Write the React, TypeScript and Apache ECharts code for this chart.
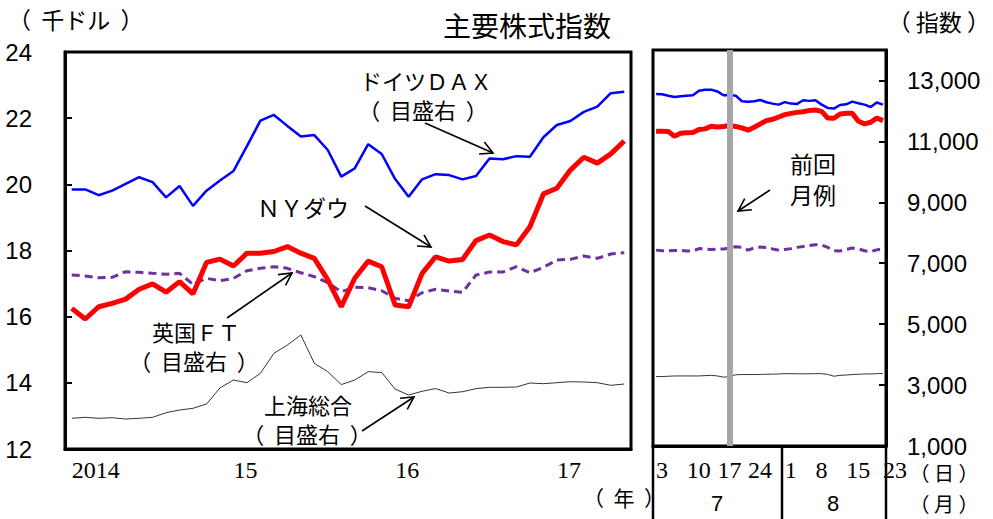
import React, { useEffect, useRef } from "react";
import * as echarts from "echarts";

// ---- monthly data (Jan 2014 - Jun 2017) ----
const months = [
  "2014-01","2014-02","2014-03","2014-04","2014-05","2014-06","2014-07","2014-08","2014-09","2014-10","2014-11","2014-12",
  "2015-01","2015-02","2015-03","2015-04","2015-05","2015-06","2015-07","2015-08","2015-09","2015-10","2015-11","2015-12",
  "2016-01","2016-02","2016-03","2016-04","2016-05","2016-06","2016-07","2016-08","2016-09","2016-10","2016-11","2016-12",
  "2017-01","2017-02","2017-03","2017-04","2017-05","2017-06",
];
const yearTickLabels: Record<string, string> = { "2014-01": "2014", "2015-01": "15", "2016-01": "16", "2017-01": "17" };

// NY Dow (thousand dollars, left axis)
const dowMonthly = [
  16.25, 15.93, 16.30, 16.40, 16.53, 16.83, 16.99, 16.74, 17.06, 16.69, 17.64, 17.74,
  17.53, 17.92, 17.92, 17.97, 18.12, 17.92, 17.76, 17.11, 16.30, 17.16, 17.68, 17.51,
  16.35, 16.30, 17.31, 17.81, 17.68, 17.73, 18.30, 18.47, 18.27, 18.17, 18.72, 19.71,
  19.88, 20.43, 20.82, 20.64, 20.92, 21.31,
];
// German DAX (index, right axis)
const daxMonthly = [
  9500, 9500, 9310, 9460, 9680, 9900, 9740, 9240, 9610, 8960, 9460, 9790,
  10100, 10920, 11750, 11940, 11580, 11230, 11280, 10790, 9920, 10190, 10980, 10660,
  9840, 9260, 9830, 10000, 9970, 9830, 9940, 10510, 10490, 10590, 10570, 11210,
  11610, 11740, 12040, 12210, 12650, 12700,
];
// UK FT (index, right axis)
const ftMonthly = [
  6697, 6664, 6608, 6620, 6805, 6785, 6752, 6720, 6752, 6392, 6588, 6510,
  6588, 6838, 6916, 6969, 6916, 6773, 6642, 6445, 6150, 6294, 6281, 6183,
  5934, 5855, 6117, 6229, 6173, 6130, 6697, 6795, 6795, 6969, 6773, 6948,
  7188, 7210, 7319, 7243, 7384, 7427,
];
// Shanghai Composite (index, right axis)
const shMonthly = [
  2005, 2038, 2005, 2025, 1982, 2005, 2038, 2188, 2277, 2332, 2473, 3000,
  3259, 3171, 3478, 4133, 4405, 4732, 3806, 3532, 3110, 3259, 3532, 3505,
  2960, 2768, 2890, 2980, 2833, 2876, 2975, 3020, 3020, 3030, 3161, 3139,
  3171, 3204, 3193, 3171, 3085, 3128,
];

// ---- daily data (Jul 3 - Aug 23, 2017) ----
const days = [
  "7/3","7/4","7/5","7/6","7/7","7/10","7/11","7/12","7/13","7/14",
  "7/17","7/18","7/19","7/20","7/21","7/24","7/25","7/26","7/27","7/28","7/31",
  "8/1","8/2","8/3","8/4","8/7","8/8","8/9","8/10","8/11",
  "8/14","8/15","8/16","8/17","8/18","8/21","8/22","8/23",
];
const dayTickLabels = ["7/3", "7/10", "7/17", "7/24", "8/1", "8/8", "8/15", "8/23"];
const previousReportDay = "7/19";

const dowDaily = [
  21.54, 21.54, 21.53, 21.39, 21.48, 21.49, 21.50, 21.59, 21.61, 21.69,
  21.67, 21.68, 21.71, 21.68, 21.64, 21.57, 21.66, 21.76, 21.86, 21.90, 21.97,
  22.04, 22.08, 22.11, 22.13, 22.17, 22.18, 22.14, 21.94, 21.93,
  22.06, 22.08, 22.08, 21.84, 21.76, 21.81, 21.94, 21.86,
];
const daxDaily = [
  12557, 12546, 12500, 12460, 12480, 12500, 12514, 12660, 12698, 12698,
  12640, 12514, 12520, 12500, 12318, 12300, 12318, 12360, 12285, 12240, 12207,
  12290, 12240, 12230, 12350, 12330, 12350, 12207, 12099, 12077,
  12196, 12218, 12305, 12250, 12207, 12130, 12275, 12207,
];
const ftDaily = [
  7430, 7410, 7410, 7420, 7420, 7400, 7400, 7480, 7470, 7450,
  7460, 7470, 7500, 7540, 7520, 7430, 7500, 7530, 7520, 7470, 7430,
  7450, 7480, 7520, 7550, 7580, 7610, 7600, 7520, 7410,
  7400, 7450, 7500, 7470, 7410, 7380, 7440, 7460,
];
const shDaily = [
  3280, 3280, 3290, 3300, 3300, 3300, 3300, 3300, 3310, 3320,
  3300, 3260, 3280, 3340, 3345, 3345, 3345, 3350, 3355, 3360, 3365,
  3375, 3375, 3370, 3370, 3370, 3375, 3375, 3350, 3290,
  3320, 3330, 3345, 3355, 3365, 3365, 3375, 3380,
];

const leftTicks = { min: 12, max: 24, interval: 2 };
const rightTicks = { min: 1000, max: 14000, interval: 2000 };

const CJK = "'Noto Sans CJK JP', 'Noto Sans', sans-serif";
const SANS = "'Liberation Sans', Arial, sans-serif";
const SERIF = "'Liberation Serif', 'Times New Roman', serif";
const paren = (s: string, sp = "  ") => `（${sp}${s}${sp}）`;

function arrow(x1: number, y1: number, x2: number, y2: number) {
  const a = Math.atan2(y2 - y1, x2 - x1);
  const L = 14;
  const t = (28 * Math.PI) / 180;
  const p1 = [x2 - L * Math.cos(a - t), y2 - L * Math.sin(a - t)];
  const p2 = [x2 - L * Math.cos(a + t), y2 - L * Math.sin(a + t)];
  return [
    { type: "line", shape: { x1, y1, x2, y2 }, style: { stroke: "#000", lineWidth: 1.6 } },
    { type: "polyline", shape: { points: [p1, [x2, y2], p2] }, style: { stroke: "#000", lineWidth: 1.6, fill: null } },
  ];
}

function txt(text: string, x: number, y: number, size: number, family = CJK, align = "center", lineHeight?: number) {
  return {
    type: "text",
    x,
    y,
    style: {
      text,
      fill: "#000",
      fontSize: size,
      fontFamily: family,
      lineHeight: lineHeight || size,
      align,
      textAlign: align,
      verticalAlign: "middle",
      textVerticalAlign: "middle",
    },
  };
}

export default function App() {
  const ref = useRef<HTMLDivElement>(null);
  useEffect(() => {
    if (!ref.current) return;
    const chart = echarts.init(ref.current, undefined, { renderer: "svg" });
    const blackLine = { show: true, lineStyle: { color: "#000", width: 3 } };
    const option: any = {
      animation: false,
      backgroundColor: "#fff",
      grid: [
        { left: 65, top: 52, width: 566, height: 397, show: true, borderColor: "#000", borderWidth: 3, backgroundColor: "transparent" },
        { left: 653, top: 50, width: 233, height: 396, show: true, borderColor: "#000", borderWidth: 3, backgroundColor: "transparent" },
      ],
      xAxis: [
        {
          type: "category",
          gridIndex: 0,
          data: months,
          boundaryGap: true,
          axisLine: blackLine,
          axisTick: { show: false },
          axisLabel: {
            interval: (i: number, v: string) => yearTickLabels[v] !== undefined,
            formatter: (v: string) => yearTickLabels[v] || "",
            align: "left",
            margin: 9,
            fontFamily: SERIF,
            fontSize: 24,
            color: "#000",
          },
        },
        {
          type: "category",
          gridIndex: 1,
          data: days,
          boundaryGap: true,
          axisLine: blackLine,
          axisTick: { show: false },
          axisLabel: {
            interval: (i: number, v: string) => dayTickLabels.includes(v),
            formatter: (v: string) => v.split("/")[1],
            align: "left",
            margin: 12,
            fontFamily: SERIF,
            fontSize: 24,
            color: "#000",
          },
        },
      ],
      yAxis: [
        {
          type: "value",
          gridIndex: 0,
          position: "left",
          ...leftTicks,
          axisLine: blackLine,
          axisTick: { show: true, inside: true, length: 7, lineStyle: { color: "#000", width: 2 } },
          splitLine: { show: false },
          axisLabel: { margin: 33, fontFamily: SANS, fontSize: 24, color: "#000" },
        },
        { type: "value", gridIndex: 0, position: "right", ...rightTicks, show: false, splitLine: { show: false } },
        {
          type: "value",
          gridIndex: 1,
          position: "right",
          ...rightTicks,
          axisLine: blackLine,
          axisTick: { show: true, inside: true, length: 7, lineStyle: { color: "#000", width: 2 } },
          splitLine: { show: false },
          axisLabel: {
            margin: 21,
            fontFamily: SANS,
            fontSize: 24,
            color: "#000",
            formatter: (v: number) => (v === 14000 ? "" : v.toLocaleString("en-US")),
          },
        },
        { type: "value", gridIndex: 1, position: "left", ...leftTicks, show: false, splitLine: { show: false } },
      ],
      series: [
        { name: "上海総合", type: "line", xAxisIndex: 0, yAxisIndex: 1, data: shMonthly, symbol: "none", lineStyle: { color: "#000", width: 0.8 } },
        { name: "英国FT", type: "line", xAxisIndex: 0, yAxisIndex: 1, data: ftMonthly, symbol: "none", lineStyle: { color: "#7030A0", width: 3, type: [8, 5] } },
        { name: "ドイツDAX", type: "line", xAxisIndex: 0, yAxisIndex: 1, data: daxMonthly, symbol: "none", lineStyle: { color: "#0000FF", width: 2.5 } },
        { name: "NYダウ", type: "line", xAxisIndex: 0, yAxisIndex: 0, data: dowMonthly, symbol: "none", lineStyle: { color: "#FF0000", width: 5 } },
        { name: "上海総合d", type: "line", xAxisIndex: 1, yAxisIndex: 2, data: shDaily, symbol: "none", lineStyle: { color: "#000", width: 0.8 } },
        { name: "英国FTd", type: "line", xAxisIndex: 1, yAxisIndex: 2, data: ftDaily, symbol: "none", lineStyle: { color: "#7030A0", width: 3, type: [8, 5] } },
        { name: "ドイツDAXd", type: "line", xAxisIndex: 1, yAxisIndex: 2, data: daxDaily, symbol: "none", lineStyle: { color: "#0000FF", width: 2.5 } },
        {
          name: "NYダウd",
          type: "line",
          xAxisIndex: 1,
          yAxisIndex: 3,
          data: dowDaily,
          symbol: "none",
          lineStyle: { color: "#FF0000", width: 5 },
          markLine: {
            silent: true,
            symbol: ["none", "none"],
            label: { show: false },
            lineStyle: { color: "#A6A6A6", width: 6, type: "solid" },
            data: [{ xAxis: previousReportDay }],
          },
        },
      ],
      graphic: [
        txt("主要株式指数", 527, 25, 28),
        txt(paren("千ドル"), 8, 19, 23, CJK, "left"),
        txt(paren("指数", " "), 990, 21, 23, CJK, "right"),
        txt(paren("年"), 624, 497, 21),
        txt(paren("日", " "), 944, 472, 20),
        txt(paren("月", " "), 944, 503, 20),
        txt("7", 717, 503, 22, SANS),
        txt("8", 833, 503, 22, SANS),
        txt("ドイツＤＡＸ", 426, 80, 22),
        txt(paren("目盛右"), 423, 109, 22),
        txt("ＮＹダウ", 303, 207, 23),
        txt("英国ＦＴ", 196, 331, 22),
        txt(paren("目盛右"), 194, 360, 22),
        txt("上海総合", 308, 404, 22),
        txt(paren("目盛右"), 307, 433, 22),
        txt("前回", 813, 163, 23),
        txt("月例", 813, 194, 23),
        { type: "line", shape: { x1: 653, y1: 446, x2: 653, y2: 519 }, style: { stroke: "#000", lineWidth: 2.5 } },
        { type: "line", shape: { x1: 782, y1: 446, x2: 782, y2: 519 }, style: { stroke: "#000", lineWidth: 2.5 } },
        { type: "line", shape: { x1: 886, y1: 446, x2: 886, y2: 519 }, style: { stroke: "#000", lineWidth: 2.5 } },
        ...arrow(425, 123, 493, 153),
        ...arrow(365, 206, 431, 247),
        ...arrow(227, 318, 292, 273),
        ...arrow(362, 431, 414, 397),
        ...arrow(770, 190, 738, 211),
      ],
    };
    chart.setOption(option);
    return () => chart.dispose();
  }, []);
  return <div ref={ref} style={{ position: "fixed", left: 0, top: 0, width: 993, height: 519, background: "#fff" }} />;
}
